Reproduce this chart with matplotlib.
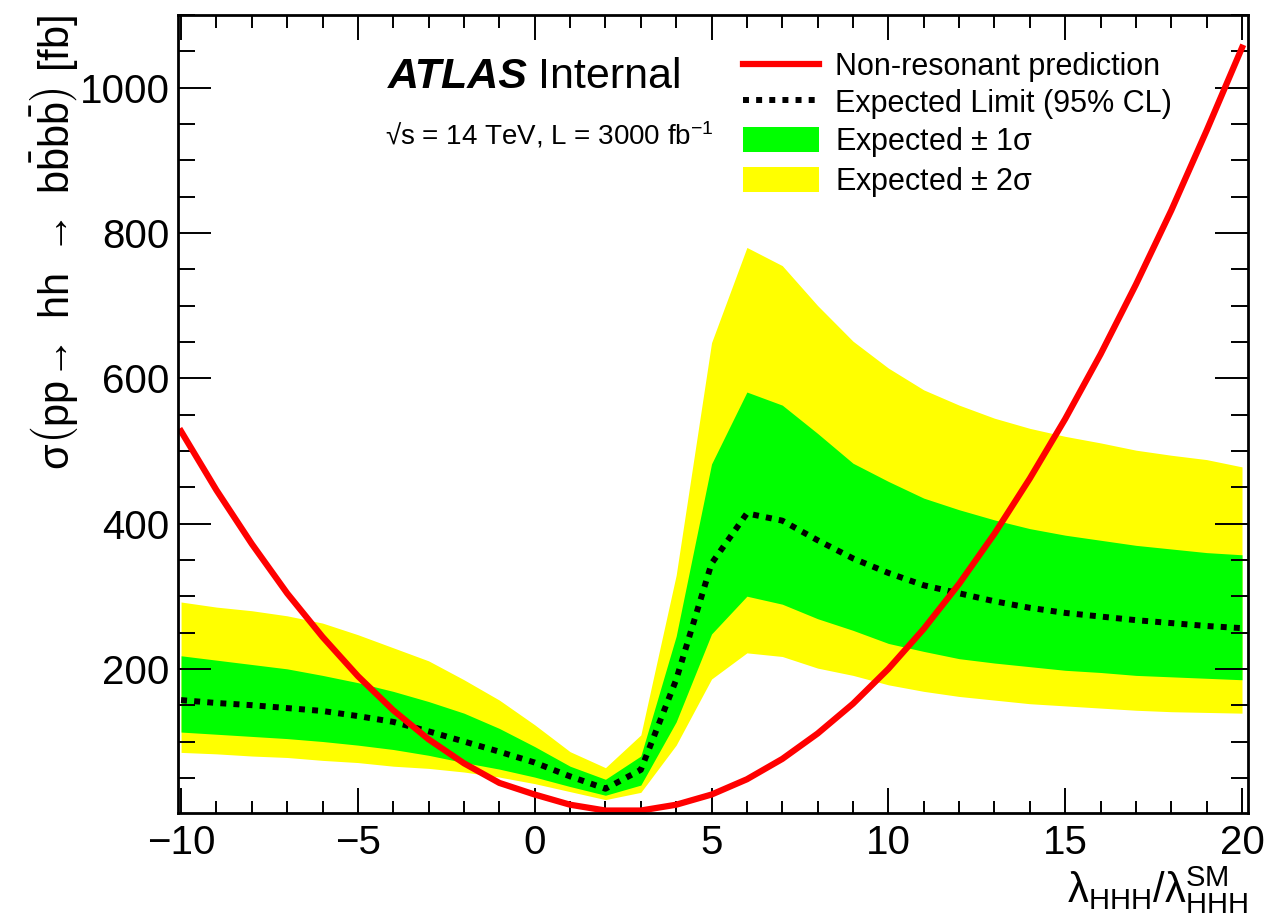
import matplotlib
matplotlib.use("Agg")
import matplotlib.pyplot as plt
from matplotlib.ticker import MultipleLocator

plt.rcParams['font.family'] = ['Liberation Sans', 'DejaVu Sans']
plt.rcParams['mathtext.fontset'] = 'custom'
plt.rcParams['mathtext.rm'] = 'Liberation Sans'
plt.rcParams['mathtext.it'] = 'Liberation Sans:italic'
plt.rcParams['mathtext.bf'] = 'Liberation Sans:bold'

# lambda_HHH / lambda_SM scan points
kappa = [-10, -9, -8, -7, -6, -5, -4, -3, -2, -1, 0, 1, 2, 3, 4, 5,
         6, 7, 8, 9, 10, 11, 12, 13, 14, 15, 16, 17, 18, 19, 20]

# non-resonant prediction [fb]
xsec_pred = [527, 446, 372, 304, 244, 190, 143, 103, 70, 43, 27, 13, 5, 5, 13, 27,
             48, 76, 111, 152, 200, 255, 317, 386, 462, 544, 633, 729, 831, 941, 1055]

# expected limit and bands [fb]
exp_lim = [157, 153, 150, 146, 142, 135, 127, 114, 100, 86, 71, 52, 35, 61, 185, 345,
           414, 404, 377, 352, 332, 315, 304, 293, 284, 277, 272, 267, 263, 259, 256]
exp_p1 = [218, 212, 206, 200, 191, 181, 169, 155, 139, 118, 93, 66, 48, 80, 245, 482,
          581, 563, 524, 483, 458, 435, 419, 405, 393, 384, 377, 370, 365, 360, 357]
exp_m1 = [113, 110, 107, 104, 100, 95, 89, 81, 71, 62, 51, 38, 26, 40, 127, 248,
          300, 289, 269, 253, 235, 224, 214, 208, 203, 198, 195, 191, 189, 187, 185]
exp_p2 = [292, 285, 280, 273, 263, 247, 229, 211, 185, 157, 123, 86, 64, 109, 329, 649,
          780, 755, 700, 651, 614, 584, 563, 545, 531, 520, 511, 501, 494, 488, 478]
exp_m2 = [85, 83, 80, 78, 74, 71, 66, 63, 58, 51, 42, 31, 20, 30, 95, 186,
          222, 217, 201, 191, 178, 169, 162, 157, 152, 149, 146, 143, 141, 140, 139]

fig = plt.figure(figsize=(12.7, 9.18), dpi=100)
ax = fig.add_axes([0.1402, 0.1147, 0.8425, 0.869])

# Bands, limit and prediction
ax.fill_between(kappa, exp_m2, exp_p2, color='#ffff00', lw=0, label='Expected $\\pm$ 2σ')
ax.fill_between(kappa, exp_m1, exp_p1, color='#00ff00', lw=0, label='Expected $\\pm$ 1σ')
ax.plot(kappa, exp_lim, color='black', lw=4.3, linestyle=(0, (1, 1.2)),
        dash_capstyle='butt', label='Expected Limit (95% CL)')
ax.plot(kappa, xsec_pred, color='#ff0000', lw=4.5, label='Non-resonant prediction')

ax.set_xlim(-10.085, 20.17)
ax.set_ylim(2, 1100)

# ROOT style axes
ax.xaxis.set_major_locator(MultipleLocator(5))
ax.xaxis.set_minor_locator(MultipleLocator(1))
ax.yaxis.set_major_locator(MultipleLocator(200))
ax.yaxis.set_minor_locator(MultipleLocator(50))
ax.tick_params(which='both', direction='in', top=True, right=True, width=1.4,
               labelsize=29)
ax.tick_params(axis='x', which='major', length=18, pad=8)
ax.tick_params(axis='x', which='minor', length=9)
ax.tick_params(axis='y', which='major', length=24, pad=6)
ax.tick_params(axis='y', which='minor', length=12)
for sp in ax.spines.values():
    sp.set_linewidth(2)

ax.set_xlabel(r'$\mathrm{λ}_{\mathrm{HHH}}/\mathrm{λ}_{\mathrm{HHH}}^{\mathrm{SM}}$',
              fontsize=30, loc='right')
ax.xaxis.set_label_coords(1.0, -0.064)
ax.set_ylabel(r'$\mathrm{σ}\left(\mathrm{pp\!\rightarrow\ hh\ \rightarrow\ b\bar{b}b\bar{b}}\right)$ [fb]',
              fontsize=30, loc='top')
ax.yaxis.set_label_coords(-0.092, 1.0)

# Labels
fig.text(388 / 1270, 1 - 88 / 918, 'ATLAS', fontsize=31, fontweight='bold',
         fontstyle='italic', ha='left', va='baseline')
fig.text(538 / 1270, 1 - 88 / 918, 'Internal', fontsize=31, ha='left', va='baseline')
fig.text(385 / 1270, 1 - 145 / 918, '√s = 14 TeV, L = 3000 fb$^{\\mathrm{-1}}$', fontsize=20,
         ha='left', va='baseline')

# Legend
handles, labels = ax.get_legend_handles_labels()
order = [3, 2, 1, 0]
ax.legend([handles[i] for i in order], [labels[i] for i in order],
          loc='upper left', bbox_to_anchor=(743 / 1270, 1 - 52 / 918),
          bbox_transform=fig.transFigure, frameon=False, fontsize=22,
          handlelength=2.5, handleheight=0.92, handletextpad=0.5,
          labelspacing=0.2, borderpad=0, borderaxespad=0)

fig.savefig('out.png', dpi=100)
